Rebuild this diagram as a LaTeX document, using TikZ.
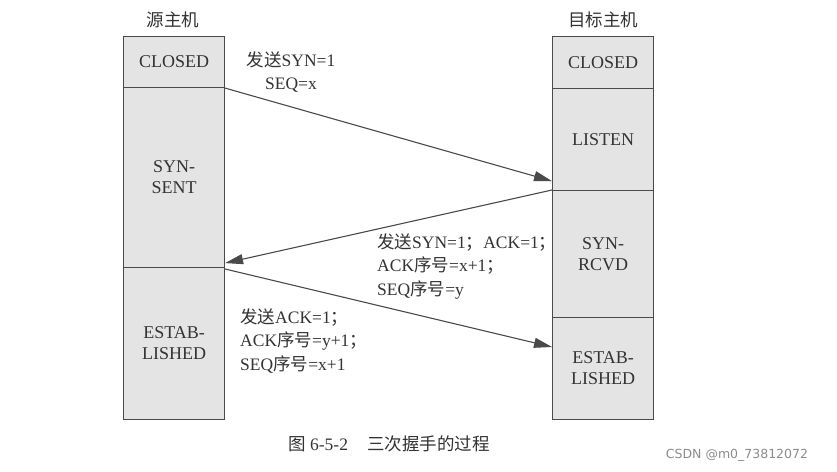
\documentclass[tikz,border=0pt]{standalone}
\usepackage{fontspec}
\setmainfont{Liberation Serif}
\newfontfamily\cjk{Noto Sans CJK SC}
\newfontfamily\wmfont{DejaVu Sans}
\usetikzlibrary{arrows.meta}
\definecolor{linec}{HTML}{4A4A4A}
\definecolor{boxfill}{HTML}{E4E4E4}
\definecolor{textc}{HTML}{333333}
\newcommand{\zh}[1]{{\cjk #1}}
\begin{document}
\begin{tikzpicture}[x=1pt,y=-1pt,
  state/.style={draw=linec, fill=boxfill, line width=1.1pt, minimum width=101pt,
    inner sep=0pt, anchor=north west, align=center,
    font=\rmfamily\fontsize{18}{21}\selectfont, text=textc},
  lbl/.style={text=textc, inner sep=0pt, font=\rmfamily\fontsize{17.5}{23.5}\selectfont},
  tipk/.tip={Triangle[length=18pt,width=10pt]},
  msg/.style={draw=linec, line width=1.1pt, -tipk}
]
\useasboundingbox[fill=white] (0,0) rectangle (837,471);
% source host
\node[state, minimum height=51pt]  (lc) at (123,36)  {CLOSED};
\node[state, minimum height=180pt] (ls) at (123,87)  {SYN-\\SENT};
\node[state, minimum height=152pt] (le) at (123,267) {ESTAB-\\LISHED};
% destination host
\node[state, minimum height=52pt]  (rc) at (552,36)  {CLOSED};
\node[state, minimum height=102pt] (rl) at (552,88)  {LISTEN};
\node[state, minimum height=127pt] (rs) at (552,190) {SYN-\\RCVD};
\node[state, minimum height=102pt] (re) at (552,317) {ESTAB-\\LISHED};
% headers
\node[lbl] (h1) at (173,20) {\zh{源主机}};
\node[lbl] (h2) at (603,20) {\zh{目标主机}};
% messages
\draw[msg] (lc.south east) -- ([yshift=10pt]rl.south west);
\draw[msg] (rs.north west) -- ([yshift=5pt]ls.south east);
\draw[msg] ([yshift=-2pt]le.north east) -- ([yshift=-30pt]re.north west);
% labels
\node[lbl, align=center] (m1) at (291,72) {\zh{发送}SYN=1\\SEQ=x};
\node[lbl, align=left, anchor=west] (m2) at (377,266)
  {\zh{发送}SYN=1\zh{；}ACK=1\zh{；}\\ACK\zh{序号}=x+1\zh{；}\\SEQ\zh{序号}=y};
\node[lbl, align=left, anchor=west] (m3) at (240,341)
  {\zh{发送}ACK=1\zh{；}\\ACK\zh{序号}=y+1\zh{；}\\SEQ\zh{序号}=x+1};
% caption
\node[lbl] (cap) at (389,444) {\zh{图} 6-5-2\hspace{1.1em}\zh{三次握手的过程}};
\node[text=black!45, inner sep=0pt, font=\wmfont\fontsize{12.5}{13}\selectfont] (wm) at (737,455) {CSDN @m0\_73812072};
\end{tikzpicture}
\end{document}
